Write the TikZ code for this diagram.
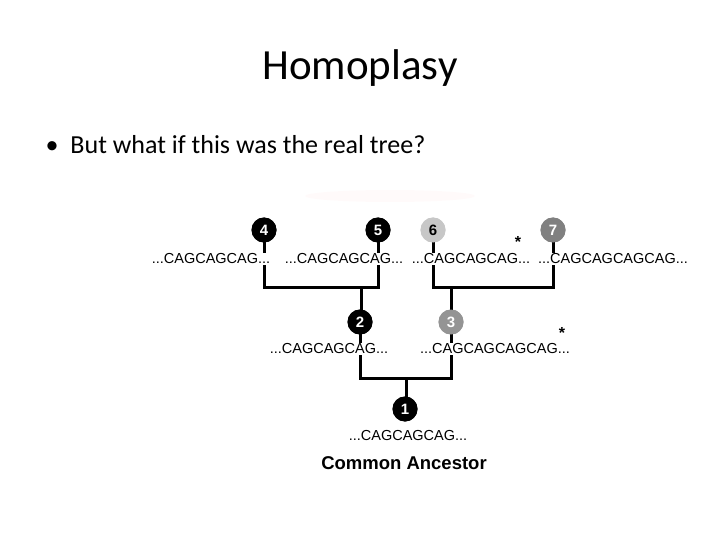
\documentclass[tikz,border=0pt]{standalone}
\usepackage{fontspec}
\setmainfont{Carlito}
\newfontfamily\arial{Liberation Sans}
\begin{document}
\begin{tikzpicture}[x=1pt,y=-1pt,
  br/.style={line width=3pt},
  dot/.style={circle,fill=black,text=white,minimum size=25pt,inner sep=0pt,font=\arial\bfseries\fontsize{15}{15}\selectfont},
  seq/.style={fill=white,inner sep=0.5pt,font=\arial\fontsize{14.5}{15}\selectfont},
  star/.style={font=\arial\bfseries\fontsize{16}{16}\selectfont,inner sep=0pt}]
\useasboundingbox (0,0) rectangle (720,540);
\fill[red!2] (390,196) ellipse (85 and 6);
\node (title) at (360,68) {\fontsize{43}{46}\selectfont Homoplasy};
\node[anchor=west] (bullet) at (42,145) {\fontsize{26}{29}\selectfont •\hspace{12pt}But what if this was the real tree?};
% nodes
\node[dot] (n4) at (264,230) {4};
\node[dot] (n5) at (378,230) {5};
\node[dot,fill=black!22,text=black] (n6) at (433,230) {6};
\node[dot,fill=black!50] (n7) at (553,230) {7};
\node[dot] (n2) at (360,322) {2};
\node[dot,fill=black!42] (n3) at (451,322) {3};
\node[dot] (n1) at (405,409) {1};
\coordinate (a) at (361,287);
\coordinate (b) at (451,287);
\coordinate (c) at (406,378);
% branches
\draw[br] (n4.center) |- (a) -| (n5.center);
\draw[br] (a) -- (a |- n2.center);
\draw[br] (n6.center) |- (b) -| (n7.center);
\draw[br] (b) -- (n3.center);
\draw[br] (n2.center) |- (c) -| (n3.center);
\draw[br] (c) -- (c |- n1.center);
% redraw dots on top
\node[dot] at (n4) {4};
\node[dot] at (n5) {5};
\node[dot,fill=black!22,text=black] at (n6) {6};
\node[dot,fill=black!50] at (n7) {7};
\node[dot] at (n2) {2};
\node[dot,fill=black!42] at (n3) {3};
\node[dot] at (n1) {1};
% sequences
\node[seq] (s4) at (211,259) {...CAGCAGCAG...};
\node[seq] (s5) at (344,259) {...CAGCAGCAG...};
\node[seq] (s6) at (471,259) {...CAGCAGCAG...};
\node[seq] (s7) at (613,259) {...CAGCAGCAGCAG...};
\node[star] (st6) at (518,242) {*};
\node[seq] (s2) at (329,349) {...CAGCAGCAG...};
\node[seq] (s3) at (495,349) {...CAGCAGCAGCAG...};
\node[star] (st3) at (562,333) {*};
\node[seq] (s1) at (408,436) {...CAGCAGCAG...};
\node (ca) at (404,463) {\arial\bfseries\fontsize{18.5}{20}\selectfont Common Ancestor};
\end{tikzpicture}
\end{document}
